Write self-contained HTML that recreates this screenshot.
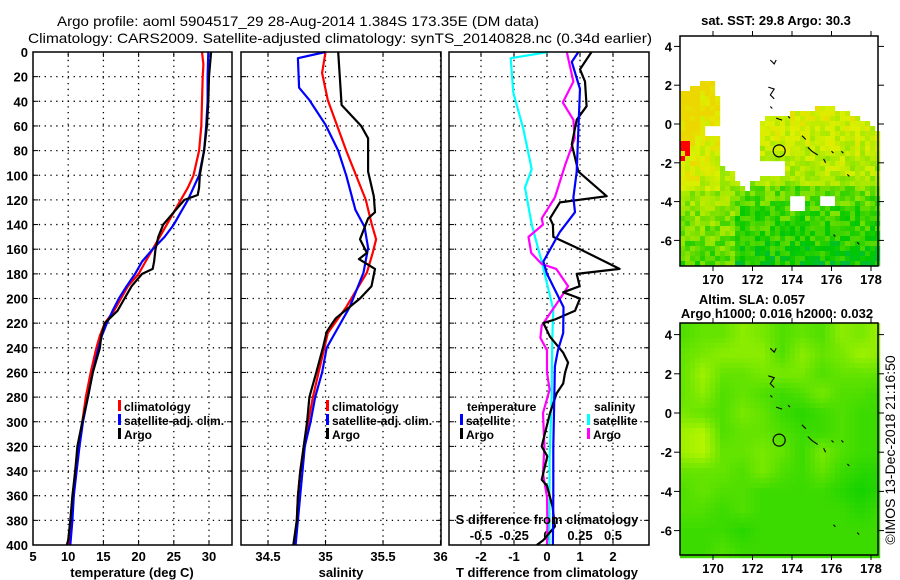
<!DOCTYPE html>
<html><head><meta charset="utf-8"><style>
html,body{margin:0;padding:0;background:#fff;}
svg{display:block;font-family:"Liberation Sans",sans-serif;}
.tk{font-size:13px;font-weight:bold;fill:#000;}
.lg{font-size:12px;font-weight:bold;fill:#000;}
</style></head><body>
<svg id="fig" width="900" height="580" viewBox="0 0 900 580" xmlns="http://www.w3.org/2000/svg">
<text x="298" y="26" text-anchor="middle" font-size="14" textLength="482" lengthAdjust="spacingAndGlyphs">Argo profile: aoml 5904517_29 28-Aug-2014 1.384S 173.35E (DM data)</text>
<text x="340" y="43" text-anchor="middle" font-size="14" textLength="624" lengthAdjust="spacingAndGlyphs">Climatology: CARS2009. Satellite-adjusted climatology: synTS_20140828.nc (0.34d earlier)</text>
<g id="grid"></g>
<g id="series"></g>
<g id="frames"></g>
<g id="maps"></g>
</svg>
<script>
// ---------- data ----------
const depthTicks=[0,20,40,60,80,100,120,140,160,180,200,220,240,260,280,300,320,340,360,380,400];
const tempTicks=[5,10,15,20,25,30];
const salTicks=[34.5,35,35.5,36];
const salTickLabels=["34.5","35","35.5","36"];
const tdiffTicks=[-2,-1,0,1,2];
const sdiffTicks=[-0.5,-0.25,0,0.25,0.5];
const sdiffTickLabels=["-0.5","-0.25","0","0.25","0.5"];

const tClimDepth=[0,10,20,40,60,80,100,110,120,130,140,150,160,170,180,190,200,210,220,230,240,260,280,300,320,340,360,380,400];
const tClimVal=[29,29.2,29.1,29,28.9,28.6,27.8,27,26,25,24,23,22,21,20,18.5,17.5,16.5,15.2,14.5,14,13.2,12.5,12,11.5,11,10.7,10.4,10.1];
const tSatDepth=[0,20,40,60,80,100,110,120,130,140,150,160,170,180,190,200,210,220,230,240,260,280,300,320,340,360,380,400];
const tSatVal=[29.9,29.8,29.8,29.6,29.3,28.6,27.8,27,26,25,23.7,22,20.5,19.5,18.3,17.2,16.3,15.5,14.8,14.3,13.5,12.8,12.1,11.6,11.2,10.8,10.6,10.3];
const tArgoDepth=[0,20,40,60,80,100,110,116,120,130,140,150,160,170,176,180,190,200,210,220,230,240,260,280,300,320,340,360,380,396,400];
const tArgoVal=[30.3,30,29.9,29.7,29.3,28.7,28.6,28.4,26.5,25,23.5,22.8,22.4,22.2,22,20.5,19,18,17,15.2,14.7,14.5,13.5,12.8,12,11.3,11,10.6,10.3,10,9.8];

const sClimDepth=[0,17,39,80,120,139,152,163,179,207,228,240,260,280,300,320,340,360,380,400];
const sClimVal=[35.0,34.97,35.02,35.18,35.35,35.40,35.44,35.41,35.36,35.18,35.02,34.99,34.94,34.89,34.85,34.81,34.78,34.76,34.75,34.73];
const sSatDepth=[0,5,29,39,59,80,100,128,142,159,179,207,230,240,260,280,300,320,340,360,380,400];
const sSatVal=[35.0,34.76,34.77,34.86,35.0,35.11,35.18,35.26,35.34,35.37,35.33,35.21,35.07,35.01,34.97,34.91,34.87,34.82,34.80,34.78,34.76,34.74];
const sArgoDepth=[0,43,60,70,97,117,130,135,152,163,168,176,190,200,216,220,227,239,260,280,300,320,341,361,380,400];
const sArgoVal=[35.11,35.14,35.31,35.37,35.37,35.42,35.43,35.37,35.30,35.36,35.29,35.43,35.40,35.30,35.09,35.06,35.01,34.98,34.92,34.86,34.84,34.81,34.78,34.76,34.75,34.72];

const dSatTDepth=[0,8,30,97,118,130,146,170,180,207,228,242,255,280,320,360,400];
const dSatTVal=[0.95,0.75,1.0,0.9,0.8,0.85,0.39,-0.11,0,0.5,0.49,0.33,0.24,0.22,0.19,0.19,0.18];
const dArgoTDepth=[0,14,24,44,55,75,97,117,122,135,140,150,160,176,180,190,195,200,210,217,220,231,244,252,260,269,277,293,320,328,347,352,369,385,396,400];
const dArgoTVal=[1.35,1.0,1.15,1.2,0.9,0.75,0.95,1.81,0.39,0.09,0.18,0.19,1.0,2.2,0.9,0.99,0.49,1.0,0.85,0.24,-0.11,0.09,0.49,0.64,0.55,0.49,0.29,0.09,-0.16,0.01,-0.16,0.0,0.17,0.24,-0.11,-0.31];
const dSatSDepth=[0,5,33,62,95,110,140,170,209,232,280,330,400];
const dSatSVal=[0.01,-0.275,-0.255,-0.18,-0.116,-0.167,-0.116,-0.04,0.048,0.04,0.035,0.02,0.018];
const dArgoSDepth=[0,24,41,55,70,92,118,135,140,150,163,172,176,190,200,222,232,242,260,274,293,320,342,361,385,400];
const dArgoSVal=[0.15,0.2,0.12,0.2,0.21,0.136,0.06,-0.04,-0.03,-0.14,-0.12,-0.04,0.07,0.16,0.1,-0.04,-0.05,0,0,0.02,-0.03,-0.02,-0.03,0,0.003,0];

// ---------- axes ----------
const Y0=52,Y1=545;
const yD=d=>Y0+d*(Y1-Y0)/400;
const xT=t=>33+(t-5)*7.04;
const xS=s=>241+(s-34.265)*115;
const xTD=t=>547+t*33;
const xSD=s=>547+s*132;
const panels=[[33,232],[241,441],[449,649]];
const NS="http://www.w3.org/2000/svg";
function mk(tag,attrs,parent){const e=document.createElementNS(NS,tag);for(const k in attrs)e.setAttribute(k,attrs[k]);parent.appendChild(e);return e;}
const G=document.getElementById('grid'),S=document.getElementById('series'),F=document.getElementById('frames'),M=document.getElementById('maps');

depthTicks.forEach(d=>{
  panels.forEach(p=>{
    if(d>0&&d<400){const l=mk('line',{x1:p[0],x2:p[1],y1:yD(d),y2:yD(d),stroke:'#000','stroke-width':1.3,'stroke-dasharray':'1.3,4.5'},G);
    
    }
    mk('line',{x1:p[0],x2:p[0]+5,y1:yD(d),y2:yD(d),stroke:'#000','stroke-width':1},G);
    mk('line',{x1:p[1]-5,x2:p[1],y1:yD(d),y2:yD(d),stroke:'#000','stroke-width':1},G);
  });
  const t=mk('text',{x:28,y:yD(d)+5,'text-anchor':'end',class:'tk'},G);t.textContent=d;
  
  
});
function vgrid(vals,fx,labels,yl,name){
  vals.forEach((v,i)=>{const x=fx(v);
    mk('line',{x1:x,x2:x,y1:Y0+2,y2:Y1,stroke:'#000','stroke-width':1.3,'stroke-dasharray':'1.3,4.5'},G);
    mk('line',{x1:x,x2:x,y1:Y0,y2:Y0+5,stroke:'#000'},G);mk('line',{x1:x,x2:x,y1:Y1-5,y2:Y1,stroke:'#000'},G);
    if(labels){const t=mk('text',{x:x,y:yl,'text-anchor':'middle',class:'tk'},G);t.textContent=labels[i];
    
    }
  });
}
vgrid(tempTicks.slice(1),xT,tempTicks.slice(1).map(String),561,'temperature-tick-label');
{const t=mk('text',{x:xT(5),y:561,'text-anchor':'middle',class:'tk'},G);t.textContent='5';}
vgrid(salTicks,xS,salTickLabels,561,'salinity-tick-label');
vgrid(tdiffTicks,xTD,tdiffTicks.map(String),561,'tdiff-tick-label');
sdiffTicks.forEach((v,i)=>{const t=mk('text',{x:xSD(v),y:540,'text-anchor':'middle',class:'tk'},G);t.textContent=sdiffTickLabels[i];
  
  });

function line(dep,val,fx,col,name,w){
  const pts=dep.map((d,i)=>fx(val[i]).toFixed(1)+','+yD(d).toFixed(1)).join(' ');
  const p=mk('polyline',{points:pts,fill:'none',stroke:col,'stroke-width':w||2.2,'stroke-linejoin':'round'},S);
  
  
}
line(tClimDepth,tClimVal,xT,'#f00','temperature-climatology-line');
line(tSatDepth,tSatVal,xT,'#00f','temperature-satellite-line');
line(tArgoDepth,tArgoVal,xT,'#000','temperature-argo-line');
line(sClimDepth,sClimVal,xS,'#f00','salinity-climatology-line');
line(sSatDepth,sSatVal,xS,'#00f','salinity-satellite-line');
line(sArgoDepth,sArgoVal,xS,'#000','salinity-argo-line');
line(dSatSDepth,dSatSVal,xSD,'#0ff','sdiff-satellite-line');
line(dArgoSDepth,dArgoSVal,xSD,'#f0f','sdiff-argo-line');
line(dArgoTDepth,dArgoTVal,xTD,'#000','tdiff-argo-line');
line(dSatTDepth,dSatTVal,xTD,'#00f','tdiff-satellite-line');

panels.forEach((p,i)=>{const r=mk('rect',{x:p[0],y:Y0,width:p[1]-p[0],height:Y1-Y0,fill:'none',stroke:'#000','stroke-width':1.5},F);
  
  });
function txt(x,y,s,name,anchor,cls){const t=mk('text',{x:x,y:y,'text-anchor':anchor||'start',class:cls||'lg'},F);t.textContent=s;
  
  return t;}
txt(132,577,'temperature (deg C)','temperature-axis-title','middle','tk');
txt(341,577,'salinity','salinity-axis-title','middle','tk');
txt(547,577,'T difference from climatology','tdiff-axis-title','middle','tk');
txt(547,524,'S difference from climatology','sdiff-axis-title','middle','tk');
function leg(x,y,col,label,name){mk('rect',{x:x,y:y-11,width:3,height:11,fill:col},F);txt(x+6,y,label,name);}
leg(118,411,'#f00','climatology','legend-climatology');
leg(118,425,'#00f','satellite-adj. clim.','legend-satellite-adj');
leg(118,439,'#000','Argo','legend-argo');
leg(326,411,'#f00','climatology','legend-climatology');
leg(326,425,'#00f','satellite-adj. clim.','legend-satellite-adj');
leg(326,439,'#000','Argo','legend-argo');
txt(467,411,'temperature','legend-temperature-header');
leg(460,425,'#00f','satellite','legend-t-satellite');
leg(460,439,'#000','Argo','legend-t-argo');
txt(594,411,'salinity','legend-salinity-header');
leg(587,425,'#0ff','satellite','legend-s-satellite');
leg(587,439,'#f0f','Argo','legend-s-argo');

// ---------- maps ----------
function hash(i,j){let h=(i*374761393+j*668265263)>>>0;h=((h^(h>>>13))*1274126177)>>>0;return ((h^(h>>>16))>>>0)/4294967295;}
function inPoly(x,y,poly){let c=false;for(let i=0,j=poly.length-1;i<poly.length;j=i++){const [xi,yi]=poly[i],[xj,yj]=poly[j];
  if(((yi>y)!=(yj>y))&&(x<(xj-xi)*(y-yi)/(yj-yi)+xi))c=!c;}return c;}
function cmap(v){v=Math.max(0,Math.min(1,v));
  const stops=[[0,[0,170,170]],[0.25,[0,200,0]],[0.5,[150,230,0]],[0.7,[220,240,0]],[0.85,[240,210,0]],[1,[255,0,0]]];
  for(let k=1;k<stops.length;k++){if(v<=stops[k][0]){const a=stops[k-1],b=stops[k],t=(v-a[0])/(b[0]-a[0]);
    return 'rgb('+a[1].map((c,i)=>Math.round(c+(b[1][i]-c)*t)).join(',')+')';}}return 'rgb(255,0,0)';}
const noData=[[680,36],[878,36],[878,130],[870,122],[850,113],[833,107],[817,107],[817,110],[790,110],[790,115],[767,115],[767,120],[758,122],[758,163],[783,163],[783,177],[758,177],[758,183],[750,183],[750,190],[745,190],[740,183],[733,177],[733,170],[722,167],[722,137],[705,137],[705,125],[719,125],[719,97],[716,97],[716,83],[700,83],[683,91],[680,91]];
const holes=[[[789,196],[806,196],[806,210],[789,210]],[[820,196],[833,196],[833,205],[820,205]]];
const m1=mk('g',{},M);
for(let x=680;x<878;x+=5)for(let y=36;y<266;y+=5){
  const cx=x+2.5,cy=y+2.5;
  if(inPoly(cx,cy,noData)||holes.some(h=>inPoly(cx,cy,h)))continue;
  const lat=(124-cy)/19.4;
  let v=0.55+0.04*(lat+3);
  if(cx<700&&lat>-3.5)v+=0.16; else if(cx<722&&lat>-3.5)v+=0.08;
  if(lat<-3.3&&cx>735)v-=0.12;
  v+= (hash(x,y)-0.5)*0.22;
  v=Math.min(v,0.82);
  if(cx<690&&cy>142&&cy<162&&hash(y,x)>0.4)v=1;
  mk('rect',{x:x,y:y,width:5.2,height:5.2,fill:cmap(v)},m1);
}
const slaGrid=[
[0.4,0.5,0.5,0.7,0.6,0.4,0.5,0.4,0.7,0.6,0.8],
[0.5,0.6,0.7,0.7,0.7,0.4,0.7,0.5,0.6,0.8,0.7],
[0.5,0.8,0.5,0.5,0.6,0.6,0.6,0.4,0.5,0.5,0.5],
[0.5,0.7,0.4,0.5,0.4,0.3,0.4,0.6,0.4,0.4,0.3],
[0.6,0.5,0.4,0.6,0.5,0.3,0.2,0.3,0.4,0.3,0.3],
[0.8,0.9,0.4,0.5,0.5,0.4,0.3,0.3,0.4,0.3,0.3],
[0.8,0.9,0.5,0.5,0.6,0.5,0.3,0.6,0.4,0.3,0.3],
[0.5,0.5,0.5,0.4,0.6,0.4,0.3,0.5,0.3,0.2,0.2],
[0.4,0.5,0.4,0.4,0.3,0.3,0.3,0.3,0.2,0.1,0.2],
[0.4,0.4,0.3,0.4,0.3,0.3,0.3,0.3,0.3,0.2,0.3],
[0.3,0.3,0.3,0.2,0.3,0.3,0.3,0.3,0.3,0.3,0.3],
[0.3,0.3,0.4,0.3,0.3,0.3,0.3,0.3,0.3,0.3,0.3]];
const m2=mk('g',{},M);
const lonX1=lon=>713+(lon-170)*19.75;
for(let x=680;x<878;x+=5)for(let y=323;y<555;y+=5){
  const lon=170+(x+2.5-713)/19.75, lat=(413-(y+2.5))/19.6;
  let gi=Math.max(0,Math.min(10.999,4-lat)), gj=Math.max(0,Math.min(9.999,lon-168.5));
  const i0=Math.floor(gi),j0=Math.floor(gj),fi=gi-i0,fj=gj-j0,i1=Math.min(11,i0+1),j1=Math.min(10,j0+1);
  const v=slaGrid[i0][j0]*(1-fi)*(1-fj)+slaGrid[i1][j0]*fi*(1-fj)+slaGrid[i0][j1]*(1-fi)*fj+slaGrid[i1][j1]*fi*fj;
  const c=[Math.round(200*v),Math.round(205+45*v),0];
  mk('rect',{x:x,y:y,width:5.2,height:5.2,fill:'rgb('+c.join(',')+')'},m2);
}
const islands=[[[172.9,3.3],[173.1,3.1],[173.2,3.3]],[[172.8,1.9],[173.1,1.8],[172.9,1.5],[173.1,1.3]],[[172.9,0.9],[173.0,0.8]],[[173.2,0.3],[173.5,0.2]],[[173.8,0.4],[173.9,0.3]],[[174.5,-0.6],[174.7,-0.8]],[[174.8,-1.2],[175.0,-1.4],[175.3,-1.6]],[[175.6,-1.8],[175.7,-2.0]],[[176.0,-1.4],[176.1,-1.5]],[[176.5,-1.4],[176.6,-1.5]],[[176.8,-2.6],[176.9,-2.7]],[[176.1,-5.7],[176.2,-5.8]],[[177.3,-6.1],[177.4,-6.2]]];
[[124,19.4],[413,19.6]].forEach(([y0,s],mi)=>{
  islands.forEach(isl=>{const p=mk('polyline',{points:isl.map(([lo,la])=>lonX1(lo).toFixed(1)+','+(y0-la*s).toFixed(1)).join(' '),fill:'none',stroke:'#000','stroke-width':1.1},M);
    
    });
  const c=mk('circle',{cx:lonX1(173.35),cy:y0+1.384*s,r:6,fill:'none',stroke:'#000','stroke-width':1.2},M);
  
  
  const top=mi?323:36,bot=mi?555:266;
  const fr=mk('rect',{x:680,y:top,width:198,height:bot-top,fill:'none',stroke:'#000','stroke-width':1.5},M);
  
  
  [4,2,0,-2,-4,-6].forEach(la=>{const y=y0-la*s;
    mk('line',{x1:674,x2:680,y1:y,y2:y,stroke:'#000'},M);mk('line',{x1:878,x2:884,y1:y,y2:y,stroke:'#000'},M);
    const t=mk('text',{x:672,y:y+5,'text-anchor':'end',class:'tk'},M);t.textContent=la;
    
    });
  [170,172,174,176,178].forEach(lo=>{const x=lonX1(lo);
    mk('line',{x1:x,x2:x,y1:bot,y2:bot+5,stroke:'#000'},M);mk('line',{x1:x,x2:x,y1:top-5,y2:top,stroke:'#000'},M);
    const t=mk('text',{x:x,y:bot+18,'text-anchor':'middle',class:'tk'},M);t.textContent=lo;
    
    });
});
function mt(x,y,s,name,anchor){const t=mk('text',{x:x,y:y,'text-anchor':anchor||'middle',class:'tk'},M);t.textContent=s;
  
  }
mt(776,25,'sat. SST: 29.8 Argo: 30.3','sst-map-title');
mt(752,304,'Altim. SLA: 0.057','sla-map-title');
mt(777,318,'Argo h1000: 0.016 h2000: 0.032','sla-map-subtitle');
{const t=mk('text',{x:0,y:0,'text-anchor':'middle','font-size':'14',transform:'translate(895,450) rotate(-90)'},M);t.textContent='©IMOS 13-Dec-2018 21:16:50';
 
 }
</script>
</body></html>
